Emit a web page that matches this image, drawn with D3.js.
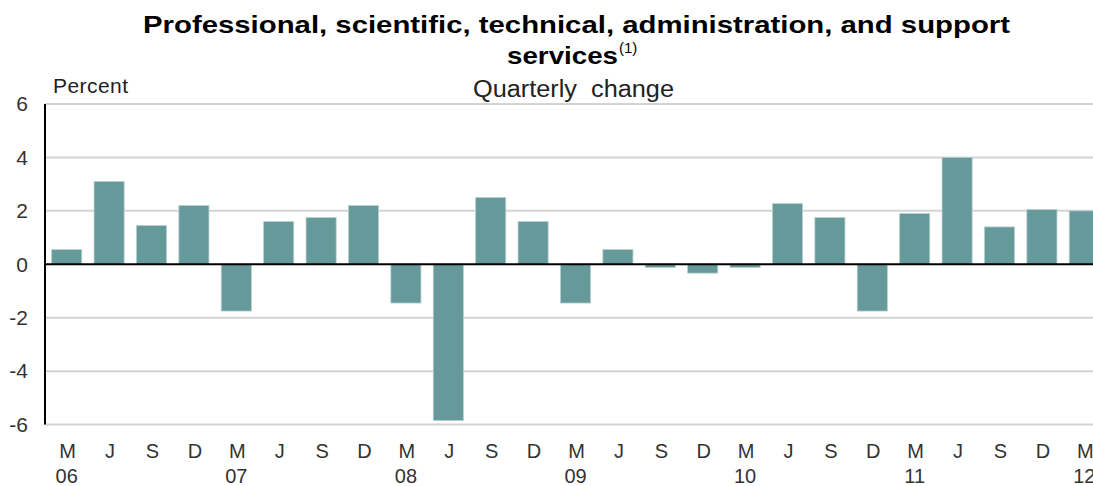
<!DOCTYPE html>
<html>
<head>
<meta charset="utf-8">
<script src="https://cdn.jsdelivr.net/npm/d3@7"></script>
<style>
  body { margin: 0; background: #fff; }
  text { font-family: "Liberation Sans", Arial, sans-serif; }
</style>
</head>
<body>
<div id="chart"></div>
<script>
// quarter month letters, year labels under each March bar, values in percent
var months = ["M","J","S","D","M","J","S","D","M","J","S","D","M","J","S","D","M","J","S","D","M","J","S","D","M"];
var years  = ["06","","","","07","","","","08","","","","09","","","","10","","","","11","","","","12"];
var values = [0.55, 3.1, 1.45, 2.2, -1.75, 1.6, 1.75, 2.2, -1.45, -5.85, 2.5, 1.6, -1.45, 0.55, -0.12,
              -0.33, -0.12, 2.27, 1.75, -1.75, 1.9, 4.0, 1.4, 2.05, 2.0];
var yTicks = [-6, -4, -2, 0, 2, 4, 6];

(function() {
  var width = 1093, height = 486;

  var svg = d3.select("#chart")
    .append("svg")
    .attr("width", width)
    .attr("height", height);

  var x = d3.scaleBand()
    .domain(d3.range(values.length))
    .range([45.5, 45.5 + 25 * 42.4])
    .paddingInner(0.29)
    .paddingOuter(0.145);

  var y = d3.scaleLinear()
    .domain([-6, 6])
    .range([424.6, 104]);

  // title (stretched a bit wider like the original)
  svg.append("text")
    .attr("x", 143).attr("y", 33)
    .attr("textLength", 867)
    .attr("lengthAdjust", "spacingAndGlyphs")
    .style("font-size", "24px").style("font-weight", "bold").attr("fill", "#000")
    .text("Professional, scientific, technical, administration, and support");

  svg.append("text")
    .attr("x", 507).attr("y", 64)
    .attr("textLength", 111)
    .attr("lengthAdjust", "spacingAndGlyphs")
    .style("font-size", "24px").style("font-weight", "bold").attr("fill", "#000")
    .text("services");
  svg.append("text")
    .attr("x", 619).attr("y", 53)
    .style("font-size", "15px").attr("fill", "#000")
    .text("(1)");

  svg.append("text")
    .attr("x", 53).attr("y", 93)
    .attr("textLength", 75)
    .style("font-size", "21px").attr("fill", "#222")
    .text("Percent");

  svg.append("text")
    .attr("x", 473).attr("y", 97)
    .attr("textLength", 201)
    .attr("lengthAdjust", "spacingAndGlyphs")
    .style("font-size", "23px").attr("fill", "#222")
    .attr("xml:space", "preserve")
    .text("Quarterly  change");

  // gridlines
  svg.append("g")
    .selectAll("line")
    .data(yTicks.filter(function(d) { return d !== 0; }))
    .enter().append("line")
    .attr("x1", 45).attr("x2", width)
    .attr("y1", function(d) { return y(d); })
    .attr("y2", function(d) { return y(d); })
    .attr("stroke", "#d4d4d4")
    .attr("stroke-width", 2);

  // y tick labels (plain hyphen for negatives)
  var yAxis = svg.append("g")
    .attr("transform", "translate(45,0)")
    .call(d3.axisLeft(y).tickValues(yTicks).tickSize(0).tickPadding(17)
      .tickFormat(function(d) { return String(d); }));
  yAxis.select(".domain").remove();
  yAxis.selectAll("text")
    .style("font-size", "21px")
    .attr("fill", "#333")
    .attr("font-family", "Liberation Sans, Arial, sans-serif");

  // bars
  svg.selectAll(".bar")
    .data(values)
    .enter().append("rect")
    .attr("class", "bar")
    .attr("x", function(d, i) { return x(i); })
    .attr("width", x.bandwidth())
    .attr("y", function(d) { return y(Math.max(0, d)); })
    .attr("height", function(d) { return Math.abs(y(d) - y(0)); })
    .attr("fill", "#669999")
    .attr("stroke", "#b7d0d0")
    .attr("stroke-width", 0.8);

  // zero line and axis line
  svg.append("line")
    .attr("x1", 45).attr("x2", width)
    .attr("y1", y(0)).attr("y2", y(0))
    .attr("stroke", "#000").attr("stroke-width", 2);

  svg.append("line")
    .attr("x1", 45).attr("x2", 45)
    .attr("y1", y(6)).attr("y2", y(-6))
    .attr("stroke", "#000").attr("stroke-width", 2);

  // x labels
  var xl = svg.append("g");
  xl.selectAll(".mon")
    .data(months)
    .enter().append("text")
    .attr("class", "mon")
    .attr("x", function(d, i) { return x(i) + x.bandwidth() / 2 + 1; })
    .attr("y", 458)
    .attr("text-anchor", "middle")
    .style("font-size", "20px").attr("fill", "#333")
    .text(function(d) { return d; });

  xl.selectAll(".yr")
    .data(years)
    .enter().append("text")
    .attr("class", "yr")
    .attr("x", function(d, i) { return x(i) + x.bandwidth() / 2; })
    .attr("y", 483)
    .attr("text-anchor", "middle")
    .style("font-size", "20px").attr("fill", "#333")
    .text(function(d) { return d; });
})();
</script>
</body>
</html>
